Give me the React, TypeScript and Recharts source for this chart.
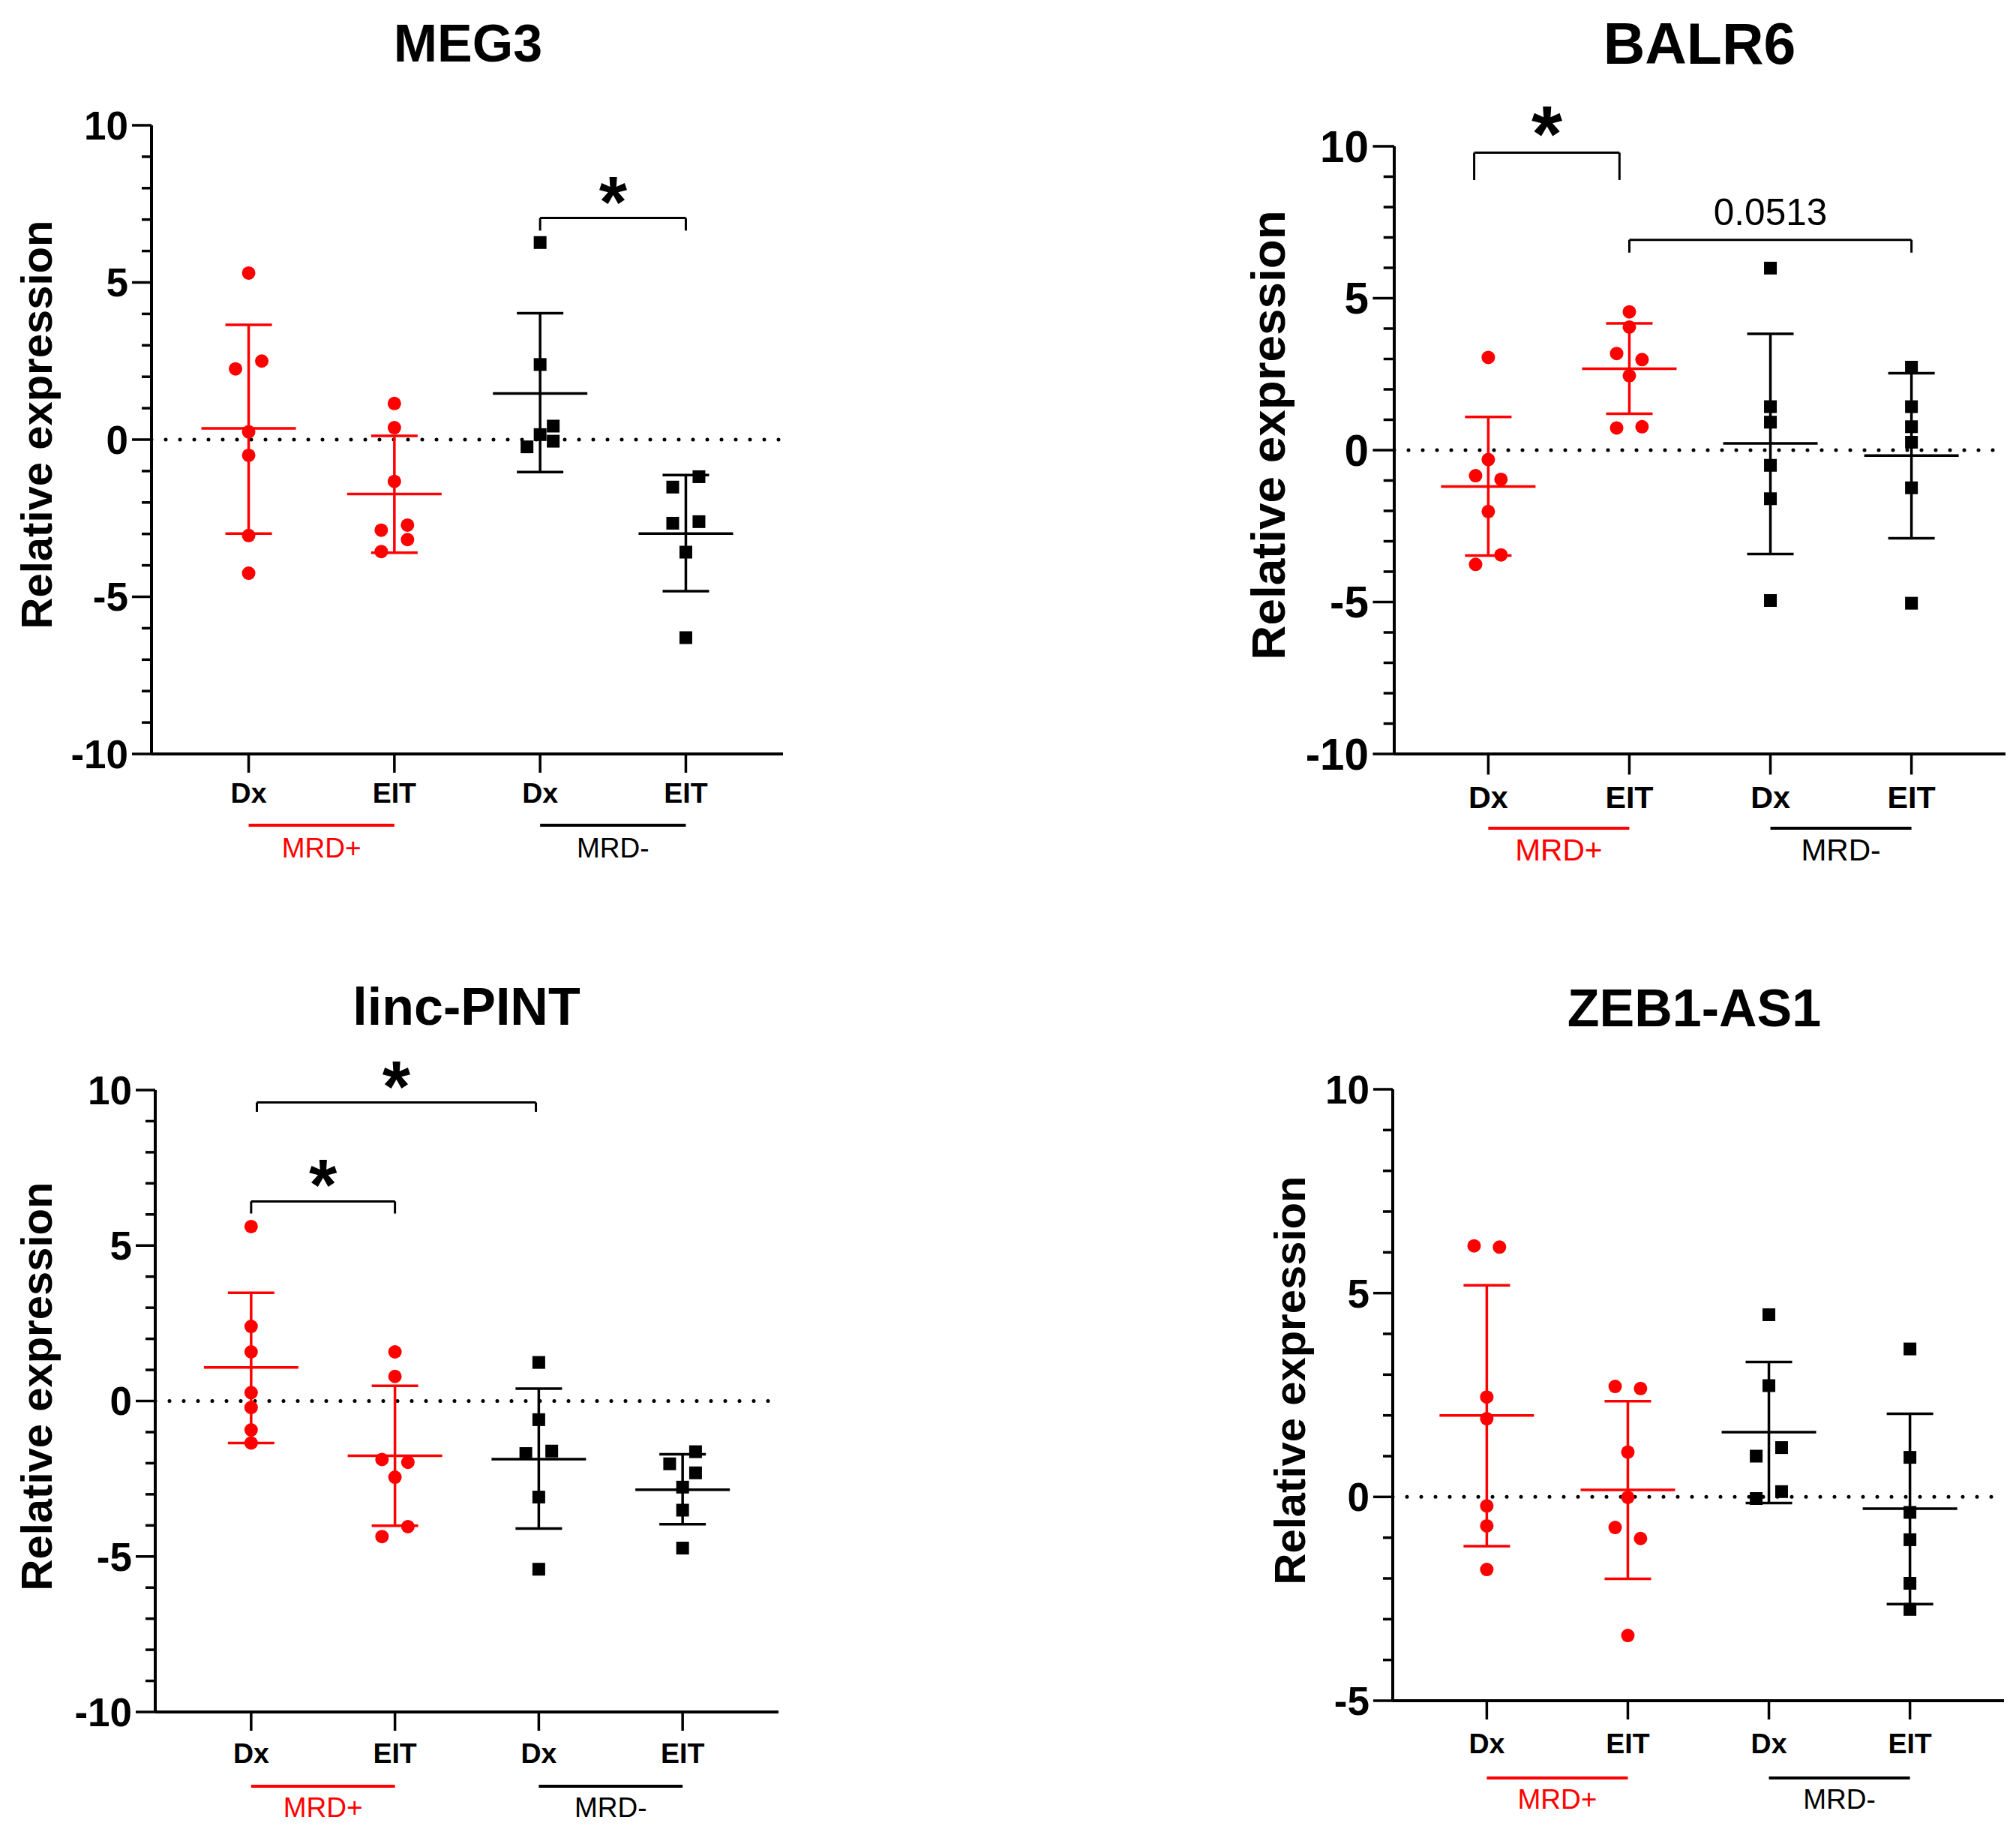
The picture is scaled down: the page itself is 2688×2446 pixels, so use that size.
import React from "react";
import { ComposedChart, Scatter, XAxis, YAxis, ReferenceLine, ErrorBar } from "recharts";

const FONT = '"Liberation Sans", Arial, Helvetica, sans-serif';
const RED = "#ff0000";
const BLACK = "#000000";

// categories and groups, shared by the four panels
const CATEGORIES = ["Dx", "EIT", "Dx", "EIT"];
const GROUPS = [
  { name: "MRD+", from: 1, to: 2, color: RED },
  { name: "MRD-", from: 3, to: 4, color: BLACK },
];

// a point: [jitter side (-1 left, 0 centre, 1 right), relative expression]
type Pt = [number, number];
// a summary: [mean, mean - SD, mean + SD]
type Stat = [number, number, number];
type Bracket = { from: number; to: number; y: number; drop: number; text: string };

// MEG3
const MEG3_POS_DX: Pt[] = [[0, 5.3], [1, 2.5], [-1, 2.25], [0, 0.25], [0, -0.5], [0, -3.05], [0, -4.25]];
const MEG3_POS_EIT: Pt[] = [[0, 1.15], [0, 0.38], [0, -1.33], [-1, -2.88], [1, -2.72], [1, -3.18], [-1, -3.56]];
const MEG3_NEG_DX: Pt[] = [[0, 6.27], [0, 2.39], [0, 0.16], [1, 0.43], [1, -0.05], [-1, -0.23]];
const MEG3_NEG_EIT: Pt[] = [[1, -1.18], [-1, -1.51], [-1, -2.66], [1, -2.61], [0, -3.58], [0, -6.3]];
const MEG3_STATS: Stat[] = [[0.36, -2.99, 3.65], [-1.73, -3.6, 0.12], [1.47, -1.03, 4.02], [-2.99, -4.82, -1.13]];
const MEG3_BRACKETS: Bracket[] = [{ from: 3, to: 4, y: 7.05, drop: 0.4, text: "*" }];

// BALR6
const BALR6_POS_DX: Pt[] = [[0, 3.05], [0, -0.31], [-1, -0.84], [1, -0.96], [0, -2.02], [1, -3.45], [-1, -3.76]];
const BALR6_POS_EIT: Pt[] = [[0, 4.55], [0, 4.05], [-1, 3.18], [1, 2.98], [0, 2.45], [-1, 0.73], [1, 0.77]];
const BALR6_NEG_DX: Pt[] = [[0, 5.99], [0, 1.43], [0, 0.92], [0, -0.5], [0, -1.6], [0, -4.95]];
const BALR6_NEG_EIT: Pt[] = [[0, 2.73], [0, 1.43], [0, 0.77], [0, 0.26], [0, -1.24], [0, -5.04]];
const BALR6_STATS: Stat[] = [[-1.2, -3.47, 1.09], [2.68, 1.2, 4.17], [0.22, -3.42, 3.83], [-0.18, -2.9, 2.53]];
const BALR6_BRACKETS: Bracket[] = [
  { from: 0.9, to: 1.93, y: 9.79, drop: 0.9, text: "*" },
  { from: 2, to: 4, y: 6.92, drop: 0.42, text: "0.0513" },
];

// linc-PINT
const PINT_POS_DX: Pt[] = [[0, 5.61], [0, 2.4], [0, 1.58], [0, 0.27], [0, -0.21], [0, -0.93], [0, -1.35]];
const PINT_POS_EIT: Pt[] = [[0, 1.58], [0, 0.79], [-1, -1.88], [1, -1.97], [0, -2.45], [1, -4.04], [-1, -4.36]];
const PINT_NEG_DX: Pt[] = [[0, 1.24], [0, -0.6], [-1, -1.69], [1, -1.61], [0, -3.09], [0, -5.41]];
const PINT_NEG_EIT: Pt[] = [[1, -1.63], [-1, -2.02], [1, -2.31], [0, -2.77], [0, -3.51], [0, -4.73]];
const PINT_STATS: Stat[] = [[1.08, -1.35, 3.48], [-1.76, -4.01, 0.49], [-1.87, -4.1, 0.4], [-2.85, -3.96, -1.71]];
const PINT_BRACKETS: Bracket[] = [
  { from: 1, to: 2, y: 6.42, drop: 0.39, text: "*" },
  { from: 1.04, to: 2.98, y: 9.6, drop: 0.3, text: "*" },
];

// ZEB1-AS1
const ZEB1_POS_DX: Pt[] = [[-1, 6.16], [1, 6.13], [0, 2.45], [0, 1.92], [0, -0.22], [0, -0.71], [0, -1.78]];
const ZEB1_POS_EIT: Pt[] = [[-1, 2.71], [1, 2.66], [0, 1.1], [0, -0.01], [-1, -0.75], [1, -1.02], [0, -3.4]];
const ZEB1_NEG_DX: Pt[] = [[0, 4.47], [0, 2.73], [-1, 1.0], [1, 1.21], [1, 0.13], [-1, -0.04]];
const ZEB1_NEG_EIT: Pt[] = [[0, 3.63], [0, 0.97], [0, -0.38], [0, -1.05], [0, -2.12], [0, -2.76]];
const ZEB1_STATS: Stat[] = [[2.0, -1.21, 5.19], [0.17, -2.01, 2.35], [1.59, -0.15, 3.31], [-0.29, -2.63, 2.04]];
const ZEB1_BRACKETS: Bracket[] = [];

// box: pixel frame of each panel on the page; k: text scale of the panel
const PANELS = [
  {
    title: "MEG3", yMin: -10, yMax: 10,
    pts: [MEG3_POS_DX, MEG3_POS_EIT, MEG3_NEG_DX, MEG3_NEG_EIT], stats: MEG3_STATS, brackets: MEG3_BRACKETS,
    box: { axisX: 202, top: 167, bottom: 1005, right: 1044, titleX: 624, titleY: 58, labelDx: 153, tickPx: 52, groupPx: 95, groupTextPx: 125, k: 1 },
  },
  {
    title: "BALR6", yMin: -10, yMax: 10,
    pts: [BALR6_POS_DX, BALR6_POS_EIT, BALR6_NEG_DX, BALR6_NEG_EIT], stats: BALR6_STATS, brackets: BALR6_BRACKETS,
    box: { axisX: 1859, top: 195, bottom: 1005, right: 2674, titleX: 2266, titleY: 58, labelDx: 168, tickPx: 57, groupPx: 99, groupTextPx: 127, k: 1.1 },
  },
  {
    title: "linc-PINT", yMin: -10, yMax: 10,
    pts: [PINT_POS_DX, PINT_POS_EIT, PINT_NEG_DX, PINT_NEG_EIT], stats: PINT_STATS, brackets: PINT_BRACKETS,
    box: { axisX: 207, top: 1453, bottom: 2282, right: 1038, titleX: 622, titleY: 1342, labelDx: 158, tickPx: 55, groupPx: 99, groupTextPx: 127, k: 1 },
  },
  {
    title: "ZEB1-AS1", yMin: -5, yMax: 10,
    pts: [ZEB1_POS_DX, ZEB1_POS_EIT, ZEB1_NEG_DX, ZEB1_NEG_EIT], stats: ZEB1_STATS, brackets: ZEB1_BRACKETS,
    box: { axisX: 1857, top: 1452, bottom: 2267, right: 2672, titleX: 2259, titleY: 1344, labelDx: 137, tickPx: 57, groupPx: 103, groupTextPx: 131, k: 1 },
  },
];

const JITTER = 0.09;
const YW = 240;
const MT = 130;
const XH = 190;
const MR = 12;
const LINE = 3.5;

const circleShape = (p: any) => <circle cx={p.cx} cy={p.cy} r={9} fill={RED} />;
const squareShape = (p: any) => <rect x={p.cx - 8.5} y={p.cy - 8.5} width={17} height={17} fill={BLACK} />;
const meanShape = (color: string) => (p: any) => (
  <line x1={p.cx - 63} x2={p.cx + 63} y1={p.cy} y2={p.cy} stroke={color} strokeWidth={LINE} />
);

// text centred on a reference line, dy below its top edge
const lineText = (text: string, dy: number, style: any) => (props: any) => {
  const vb = props.viewBox || {};
  const x = (vb.x ?? 0) + (vb.width ?? 0) / 2;
  return (
    <text x={x} y={(vb.y ?? 0) + dy} textAnchor="middle" fontFamily={FONT} {...style}>
      {text}
    </text>
  );
};

const YTick = (p: any) => {
  const k = p.k;
  const v = p.payload.value;
  const major = v % 5 === 0;
  const fs = 53 * k;
  return (
    <g>
      <line x1={p.x - (major ? 26 : 13) * k} x2={p.x} y1={p.y} y2={p.y} stroke={BLACK} strokeWidth={LINE} />
      {major && (
        <text x={p.x - 31 * k} y={p.y + 0.358 * fs} textAnchor="end" fontFamily={FONT} fontWeight={700} fontSize={fs} fill={BLACK}>
          {v}
        </text>
      )}
    </g>
  );
};

const XTick = (p: any) => {
  const fs = 37.5 * p.k;
  return (
    <text x={p.x} y={p.y + p.dy + 0.358 * fs} textAnchor="middle" fontFamily={FONT} fontWeight={700} fontSize={fs} fill={BLACK}>
      {CATEGORIES[p.payload.value - 1]}
    </text>
  );
};

function Panel({ cfg }: { cfg: (typeof PANELS)[number] }) {
  const b = cfg.box;
  const k = b.k;
  const plotW = b.right - b.axisX;
  const plotH = b.bottom - b.top;
  const w = plotW + YW + MR;
  const h = plotH + MT + XH;
  const unitsPerPx = (cfg.yMax - cfg.yMin) / plotH;
  const groupY = cfg.yMin - b.groupPx * unitsPerPx;
  const tickSize = 25 * k;
  const groupFs = 37 * k;

  const toPoints = (groups: Pt[][], first: number) =>
    groups.flatMap((g, i) => g.map(([s, v]) => ({ x: first + i + s * JITTER, y: v })));
  const toStats = (rows: Stat[], first: number) =>
    rows.map(([m, lo, hi], i) => ({ x: first + i, y: m, err: [m - lo, hi - m] }));

  const redPts = toPoints(cfg.pts.slice(0, 2), 1);
  const blackPts = toPoints(cfg.pts.slice(2), 3);
  const redStats = toStats(cfg.stats.slice(0, 2), 1);
  const blackStats = toStats(cfg.stats.slice(2), 3);
  const yTicks: number[] = [];
  for (let v = cfg.yMin; v <= cfg.yMax; v++) yTicks.push(v);

  return (
    <>
      <div
        style={{
          position: "absolute", left: b.titleX - 400, top: b.titleY - 45, width: 800, height: 90,
          lineHeight: "90px", textAlign: "center", fontFamily: FONT, fontWeight: 700, fontSize: 70 * k,
        }}
      >
        {cfg.title}
      </div>
      <div
        style={{
          position: "absolute", left: b.axisX - b.labelDx - 400, top: (b.top + b.bottom) / 2 - 20 - 40,
          width: 800, height: 80, lineHeight: "80px", textAlign: "center", transform: "rotate(-90deg)",
          fontFamily: FONT, fontWeight: 700, fontSize: 58 * k,
        }}
      >
        Relative expression
      </div>
      <div style={{ position: "absolute", left: b.axisX - YW, top: b.top - MT, width: w, height: h }}>
        <ComposedChart width={w} height={h} margin={{ top: MT, right: MR, bottom: 0, left: 0 }}>
          <XAxis
            type="number" dataKey="x" domain={[1 / 3, 14 / 3]} ticks={[1, 2, 3, 4]} interval={0}
            allowDataOverflow height={XH} tickSize={tickSize} tickMargin={0}
            tickLine={{ stroke: BLACK, strokeWidth: LINE }} axisLine={{ stroke: BLACK, strokeWidth: 4 }}
            tick={(p: any) => <XTick {...p} k={k} dy={b.tickPx - tickSize} />}
          />
          <YAxis
            type="number" dataKey="y" domain={[cfg.yMin, cfg.yMax]} ticks={yTicks} interval={0}
            allowDataOverflow width={YW} tickSize={0} tickMargin={0} tickLine={false}
            axisLine={{ stroke: BLACK, strokeWidth: 4 }} tick={(p: any) => <YTick {...p} k={k} />}
          />
          <ReferenceLine y={0} stroke={BLACK} strokeWidth={5} strokeDasharray="0 19" strokeLinecap="round" />

          <Scatter data={redPts} shape={circleShape} isAnimationActive={false} />
          <Scatter data={blackPts} shape={squareShape} isAnimationActive={false} />
          <Scatter data={redStats} shape={meanShape(RED)} isAnimationActive={false}>
            <ErrorBar dataKey="err" direction="y" width={31} stroke={RED} strokeWidth={LINE} isAnimationActive={false} />
          </Scatter>
          <Scatter data={blackStats} shape={meanShape(BLACK)} isAnimationActive={false}>
            <ErrorBar dataKey="err" direction="y" width={31} stroke={BLACK} strokeWidth={LINE} isAnimationActive={false} />
          </Scatter>

          {cfg.brackets.map((br, i) => (
            <React.Fragment key={`br${i}`}>
              <ReferenceLine
                segment={[{ x: br.from, y: br.y }, { x: br.to, y: br.y }]} stroke={BLACK} strokeWidth={3}
                ifOverflow="visible"
                label={
                  br.text === "*"
                    ? lineText("*", 11, { fontWeight: 700, fontSize: 96 * k, fill: BLACK })
                    : lineText(br.text, -20, { fontWeight: 400, fontSize: 45 * k, fill: BLACK })
                }
              />
              <ReferenceLine segment={[{ x: br.from, y: br.y }, { x: br.from, y: br.y - br.drop }]} stroke={BLACK} strokeWidth={3} ifOverflow="visible" />
              <ReferenceLine segment={[{ x: br.to, y: br.y }, { x: br.to, y: br.y - br.drop }]} stroke={BLACK} strokeWidth={3} ifOverflow="visible" />
            </React.Fragment>
          ))}

          {GROUPS.map((g) => (
            <ReferenceLine
              key={g.name}
              segment={[{ x: g.from, y: groupY }, { x: g.to, y: groupY }]}
              stroke={g.color} strokeWidth={4} ifOverflow="visible"
              label={lineText(g.name, b.groupTextPx - b.groupPx + 0.358 * groupFs, { fontWeight: 400, fontSize: groupFs, fill: g.color })}
            />
          ))}
        </ComposedChart>
      </div>
    </>
  );
}

export default function App() {
  return (
    <div style={{ position: "absolute", left: 0, top: 0, width: 2688, height: 2446, background: "#fff", overflow: "hidden" }}>
      {PANELS.map((cfg) => (
        <Panel key={cfg.title} cfg={cfg} />
      ))}
    </div>
  );
}
